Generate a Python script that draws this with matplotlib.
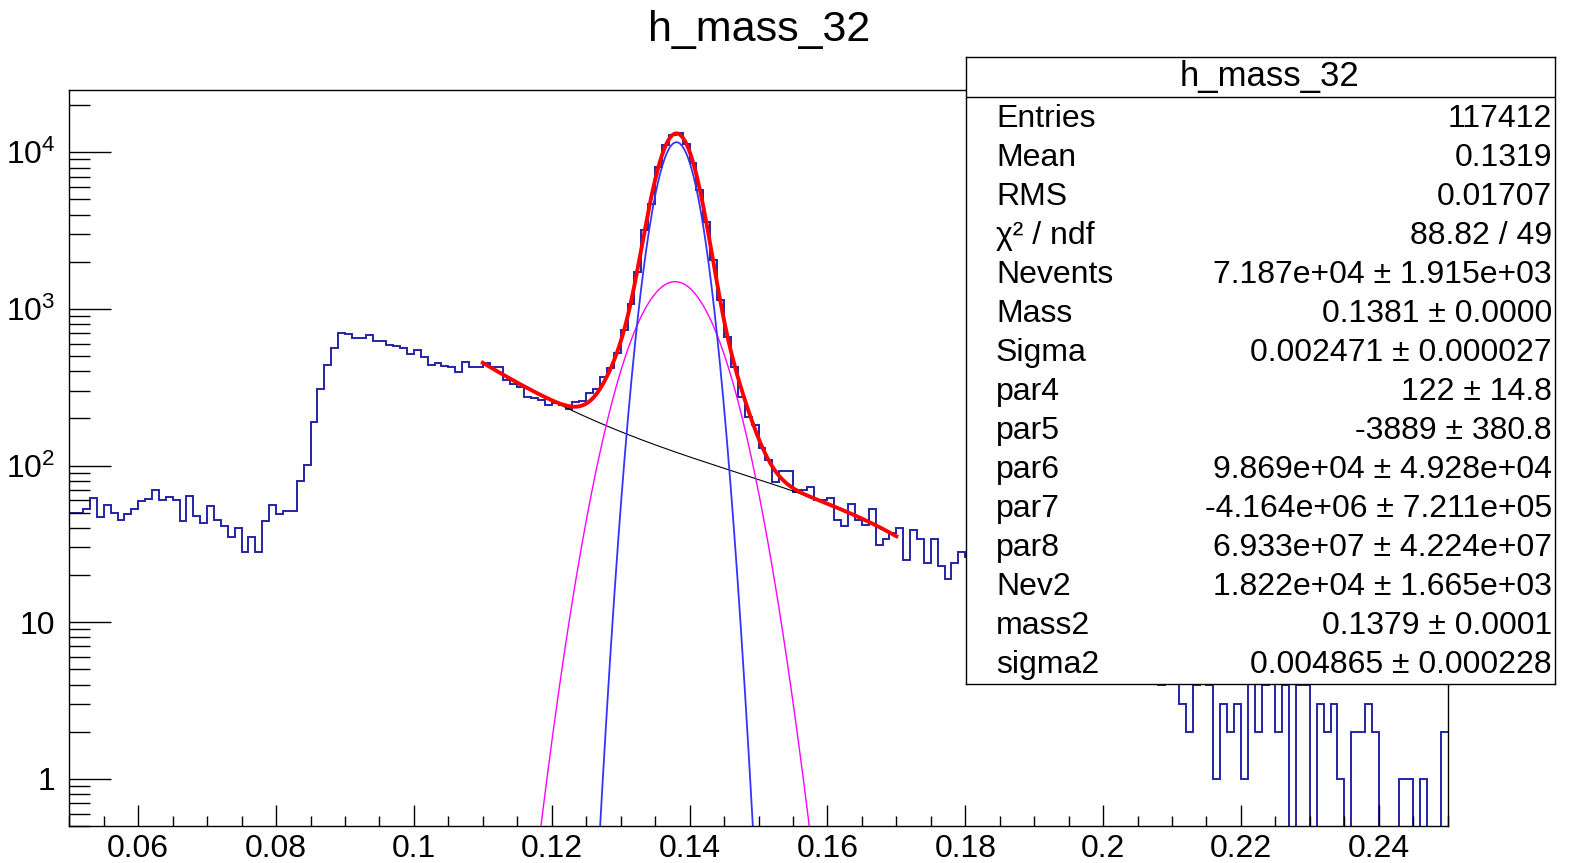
import numpy as np
import matplotlib
matplotlib.use('Agg')
import matplotlib.pyplot as plt
from matplotlib.ticker import FixedLocator, MultipleLocator, NullFormatter

# h_mass_32 : 200 bins between 0.05 and 0.25
x_lo, x_hi, n_bins = 0.05, 0.25, 200
counts = [
    50, 50, 53, 62, 47, 56, 50, 45, 49, 53, 59, 61, 70, 60, 63, 60, 44, 64, 48, 43,
    55, 45, 41, 35, 40, 28, 35, 28, 44, 56, 49, 51, 51, 80, 101, 189, 309, 439, 566, 703,
    692, 650, 650, 679, 625, 625, 592, 581, 566, 516, 545, 496, 441, 450, 433, 425, 393, 459, 423, 423,
    450, 423, 423, 352, 332, 316, 276, 269, 262, 244, 252, 242, 230, 256, 258, 292, 307, 368, 419, 524,
    730, 1076, 1730, 3190, 4700, 8100, 11100, 12900, 13200, 11350, 8500, 5740, 3600, 2050, 1140, 665, 429, 276, 205, 182,
    129, 109, 79, 92, 92, 68, 70, 73, 60, 60, 62, 45, 41, 57, 45, 42, 53, 31, 34, 37,
    40, 25, 39, 34, 24, 34, 23, 19, 24, 28, 26, 22, 25, 19, 21, 17, 20, 16, 15, 18,
    14, 13, 15, 11, 12, 10, 11, 9, 10, 8, 9, 7, 8, 6, 7, 6, 5, 6, 4, 6,
    5, 3, 2, 4, 5, 4, 1, 3, 2, 3, 1, 5, 2, 4, 5, 2, 4, 0, 4, 4,
    0, 3, 2, 3, 1, 0, 2, 2, 3, 2, 0, 0, 0, 1, 1, 0, 1, 0, 0, 2,
]

# fit results (stat box)
fit_lo, fit_hi = 0.11, 0.17
nevents, mass, sigma = 7.187e4, 0.1381, 0.002471
nev2, mass2, sigma2 = 1.822e4, 0.1379, 0.004865
# background component
bkg_x = [0.110, 0.115, 0.120, 0.125, 0.130, 0.135, 0.140, 0.145, 0.150, 0.155, 0.160, 0.165, 0.170]
bkg_y = [450, 340, 262, 208, 164, 131, 111, 98, 85, 70, 55, 45, 36]

stat_labels = ["Entries", "Mean", "RMS", "χ² / ndf", "Nevents", "Mass", "Sigma", "par4", "par5",
               "par6", "par7", "par8", "Nev2", "mass2", "sigma2"]
stat_values = ["117412", "0.1319", "0.01707", "88.82 / 49", "7.187e+04 ± 1.915e+03",
               "0.1381 ± 0.0000", "0.002471 ± 0.000027", "122 ± 14.8", "-3889 ± 380.8",
               "9.869e+04 ± 4.928e+04", "-4.164e+06 ± 7.211e+05", "6.933e+07 ± 4.224e+07",
               "1.822e+04 ± 1.665e+03", "0.1379 ± 0.0001", "0.004865 ± 0.000228"]

plt.rcParams['font.family'] = ['Liberation Sans', 'DejaVu Sans']
plt.rcParams['mathtext.fontset'] = 'custom'
plt.rcParams['mathtext.rm'] = 'Liberation Sans'
plt.rcParams['mathtext.it'] = 'Liberation Sans'

W, H = 1583, 863
fig = plt.figure(figsize=(W / 100, H / 100), dpi=100)
ax = fig.add_axes([69.3 / W, 1 - 826 / H, (1447.7 - 69.3) / W, (826 - 90) / H])

bw = (x_hi - x_lo) / n_bins
edges = np.linspace(x_lo, x_hi, n_bins + 1)
ax.stairs(np.maximum(np.array(counts, float), 1e-3), edges, baseline=None,
          color='#2424a8', lw=1.4)


def gaus(x, n, m, s):
    return n * bw / (np.sqrt(2 * np.pi) * s) * np.exp(-0.5 * ((x - m) / s) ** 2)


xf = np.linspace(fit_lo, fit_hi, 601)
g1 = gaus(xf, nevents, mass, sigma)
g2 = gaus(xf, nev2, mass2, sigma2)
# smooth background through the read points (pol4 in log space)
bkg = 10 ** np.polyval(np.polyfit(bkg_x, np.log10(bkg_y), 4), xf)
ax.plot(xf, bkg, color='black', lw=0.8)
ax.plot(xf, g2, color='#ff00ff', lw=1.0)
ax.plot(xf, g1, color='#3333ff', lw=1.3)
ax.plot(xf, bkg + g1 + g2, color='red', lw=2.8)

ax.set_yscale('log')
ax.set_xlim(x_lo, x_hi)
ax.set_ylim(0.5, 2.5e4)

ax.xaxis.set_major_locator(FixedLocator(np.arange(0.06, 0.245, 0.02)))
ax.set_xticklabels(['0.06', '0.08', '0.1', '0.12', '0.14', '0.16', '0.18', '0.2', '0.22', '0.24'])
ax.xaxis.set_minor_locator(MultipleLocator(0.005))
ax.yaxis.set_major_locator(FixedLocator([1, 10, 100, 1000, 10000]))
ax.set_yticklabels(['1', '10', '$10^{2}$', '$10^{3}$', '$10^{4}$'])
ax.yaxis.set_minor_locator(FixedLocator([k * 10.0 ** d for d in range(-1, 5) for k in range(2, 10)]))
ax.yaxis.set_minor_formatter(NullFormatter())

ax.tick_params(which='both', direction='in', top=False, right=False, width=1.0, labelsize=23)
ax.tick_params(axis='x', which='major', length=15, pad=6)
ax.tick_params(axis='x', which='minor', length=7.5)
ax.tick_params(axis='y', which='major', length=30, pad=10)
ax.tick_params(axis='y', which='minor', length=15)
for sp in ax.spines.values():
    sp.set_linewidth(1.0)

fig.text(759 / W, 1 - 30 / H, 'h_mass_32', ha='center', va='center', fontsize=31)

# stat box, drawn in pixel coordinates
bx0, bx1, by0, by1 = 966, 1555, 57.5, 684.4
sax = fig.add_axes([bx0 / W, 1 - by1 / H, (bx1 - bx0) / W, (by1 - by0) / H], zorder=10)
sax.set_xlim(bx0, bx1)
sax.set_ylim(by1, by0)
sax.set_xticks([])
sax.set_yticks([])
for sp in sax.spines.values():
    sp.set_linewidth(1.0)
sax.axhline(97, color='black', lw=1.0)
sax.text(1270, 77, 'h_mass_32', ha='center', va='center', fontsize=25)
for i, (lab, val) in enumerate(zip(stat_labels, stat_values)):
    y = 119 + 39.0 * i
    sax.text(996, y, lab, ha='left', va='center', fontsize=23)
    sax.text(1552, y, val, ha='right', va='center', fontsize=23)

fig.savefig('out.png', dpi=100)
